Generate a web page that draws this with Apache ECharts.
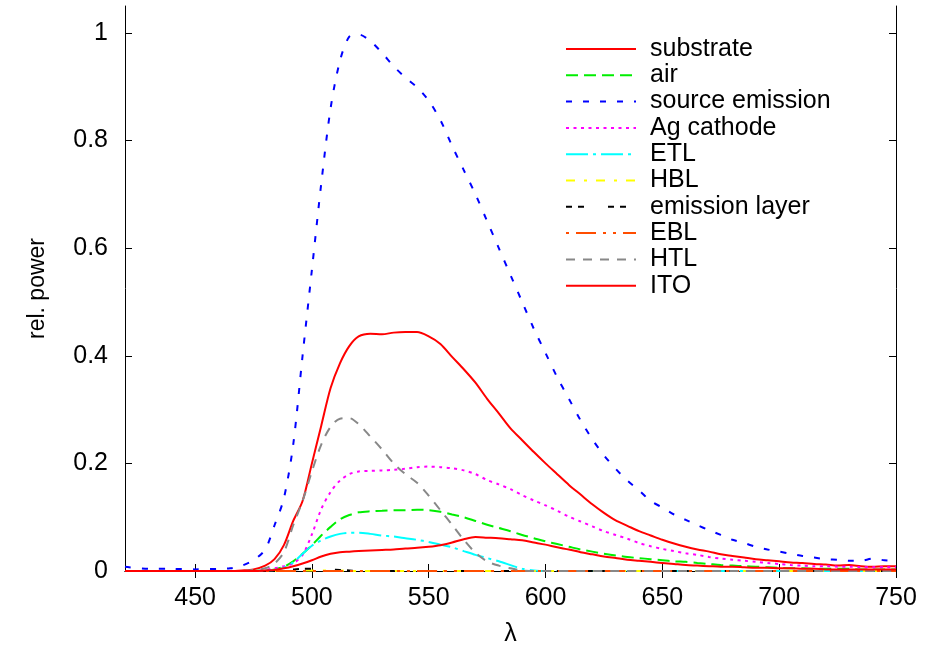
<!DOCTYPE html>
<html>
<head>
<meta charset="utf-8">
<script src="https://cdn.jsdelivr.net/npm/echarts@6/dist/echarts.min.js"></script>
<style>html,body{margin:0;padding:0;background:#fff}#c{width:926px;height:653px}</style>
</head>
<body>
<div id="c"></div>
<script>
// ---- data ----
const wavelength = [420,430,440,450,460,465,470,475,480,484,488,492,496,500,504,508,512,516,520,525,530,535,540,545,550,555,560,565,570,575,580,585,590,595,600,605,610,615,620,625,630,635,640,645,650,655,660,665,670,675,680,685,690,695,700,705,710,715,720,725,730,735,740,745,750];

const substrate = [0,0,0,0,0,0,0.001,0.003,0.01,0.022,0.048,0.093,0.13,0.2,0.27,0.34,0.386,0.418,0.436,0.441,0.44,0.443,0.444,0.444,0.436,0.422,0.398,0.375,0.35,0.32,0.293,0.265,0.243,0.221,0.2,0.18,0.16,0.142,0.124,0.108,0.094,0.084,0.074,0.066,0.058,0.051,0.045,0.04,0.036,0.031,0.028,0.025,0.022,0.02,0.018,0.016,0.015,0.013,0.012,0.01,0.011,0.009,0.008,0.009,0.009];

const air = [0,0,0,0,0,0,0,0,0.001,0.003,0.008,0.018,0.032,0.048,0.066,0.082,0.096,0.104,0.109,0.111,0.112,0.113,0.113,0.114,0.113,0.11,0.105,0.1,0.093,0.086,0.08,0.074,0.067,0.061,0.055,0.05,0.045,0.04,0.036,0.032,0.029,0.026,0.024,0.022,0.02,0.018,0.017,0.015,0.013,0.011,0.01,0.009,0.008,0.007,0.006,0.005,0.005,0.004,0.004,0.004,0.004,0.003,0.003,0.003,0.003];

const sourceEmission = [0.008,0.004,0.004,0.003,0.004,0.005,0.01,0.02,0.04,0.085,0.135,0.235,0.4,0.56,0.72,0.86,0.948,0.993,0.997,0.985,0.963,0.938,0.917,0.899,0.874,0.838,0.79,0.745,0.7,0.65,0.6,0.55,0.5,0.45,0.405,0.36,0.32,0.28,0.245,0.215,0.19,0.168,0.15,0.13,0.118,0.105,0.095,0.085,0.076,0.067,0.058,0.052,0.045,0.04,0.036,0.032,0.028,0.025,0.022,0.021,0.019,0.019,0.023,0.02,0.019];

const agCathode = [0,0,0,0,0,0,0,0,0.002,0.005,0.009,0.014,0.03,0.068,0.115,0.147,0.168,0.18,0.185,0.186,0.187,0.188,0.19,0.193,0.194,0.193,0.191,0.187,0.18,0.169,0.161,0.152,0.141,0.131,0.122,0.112,0.101,0.092,0.083,0.074,0.067,0.06,0.052,0.046,0.041,0.037,0.033,0.03,0.026,0.023,0.021,0.019,0.017,0.015,0.013,0.011,0.01,0.009,0.009,0.008,0.008,0.007,0.007,0.007,0.007];

const etl = [0,0,0,0,0,0,0,0,0.001,0.002,0.006,0.016,0.032,0.047,0.057,0.064,0.069,0.071,0.071,0.069,0.066,0.064,0.061,0.058,0.054,0.049,0.044,0.037,0.03,0.024,0.018,0.011,0.004,0.001,0,0,0,0,0,0,0,0,0,0,0,0,0,0,0,0,0,0,0,0,0,0,0,0,0,0,0,0,0,0,0];

const hbl = [0,0,0,0,0,0,0,0,0,0,0,0,0.001,0.001,0.001,0.001,0.001,0,0,0,0,0,0,0,0,0,0,0,0,0,0,0,0,0,0,0,0,0,0,0,0,0,0,0,0,0,0,0,0,0,0,0,0,0,0,0,0,0,0,0,0,0,0,0,0];

const emissionLayer = [0,0,0,0,0,0,0,0,0,0.001,0.002,0.003,0.004,0.004,0.004,0.003,0.002,0.001,0,0,0,0,0,0,0,0,0,0,0,0,0,0,0,0,0,0,0,0,0,0,0,0,0,0,0,0,0,0,0,0,0,0,0,0,0,0,0,0,0,0,0,0,0,0,0];

const ebl = [0,0,0,0,0,0,0,0,0,0,0,0,0,0,0,0,0,0,0,0,0,0,0,0,0,0,0,0,0,0,0,0,0,0,0,0,0,0,0,0,0,0,0,0,0,0,0,0,0,0,0,0,0,0,0,0,0,0,0,0,0,0,0,0,0];

const htl = [0,0,0,0,0,0,0,0.002,0.005,0.014,0.035,0.085,0.13,0.185,0.235,0.268,0.283,0.284,0.273,0.25,0.226,0.2,0.18,0.164,0.14,0.113,0.086,0.058,0.034,0.018,0.01,0.005,0.001,0,0,0,0,0,0,0,0,0,0,0,0,0,0,0,0,0,0,0,0,0,0,0,0,0,0,0,0,0,0,0,0];

const ito = [0,0,0,0,0,0,0,0,0.001,0.002,0.005,0.009,0.014,0.02,0.027,0.032,0.035,0.036,0.037,0.038,0.039,0.04,0.042,0.043,0.045,0.048,0.053,0.059,0.063,0.062,0.061,0.059,0.057,0.053,0.049,0.044,0.04,0.035,0.031,0.027,0.024,0.021,0.019,0.017,0.015,0.013,0.011,0.01,0.009,0.008,0.008,0.007,0.006,0.006,0.005,0.005,0.004,0.004,0.003,0.003,0.003,0.003,0.003,0.003,0.003];

const seriesNames = ['substrate','air','source emission','Ag cathode','ETL','HBL','emission layer','EBL','HTL','ITO'];
const seriesValues = [substrate, air, sourceEmission, agCathode, etl, hbl, emissionLayer, ebl, htl, ito];
const xTicks = [450,500,550,600,650,700,750];
const yTicks = [0,0.2,0.4,0.6,0.8,1];

// ---- styles ----
const colors = ['#ff0000','#00ee00','#0000ff','#ff00ff','#00ffff','#ffff00','#000000','#ff4d00','#888888','#ff0000'];
const dashes = ['solid',[12,6],[6,11],[3,4.5],[22,5,3,5],[9,9,3,9],[6,6,6,24],[3,7,20,7,3,7],[9,8],'solid'];

const chart = echarts.init(document.getElementById('c'), null, {renderer:'canvas'});
const FONT = 'Liberation Sans';
const axisLine = {show:true, lineStyle:{color:'#000', width:1}};

const series = seriesNames.map((n,i)=>({
  name:n, type:'line', xAxisIndex:0, yAxisIndex:0,
  data: wavelength.map((w,k)=>[w, seriesValues[i][k]]),
  symbol:'none', smooth:0.3, clip:true,
  lineStyle:{color:colors[i], width:2, type:dashes[i]},
  itemStyle:{color:colors[i]},
  z: 2+i
}));

chart.setOption({
  animation:false,
  textStyle:{fontFamily:FONT},
  grid:{left:125, right:30, top:6, bottom:82, containLabel:false},
  legend:{
    orient:'vertical', left:565, top:36.5, padding:0,
    itemWidth:70, itemHeight:14, itemGap:1.3,
    itemStyle:{color:'rgba(0,0,0,0)', opacity:0, borderWidth:0},
    textStyle:{fontFamily:FONT, fontSize:25, color:'#000', padding:[0,0,0,9]},
    data: seriesNames
  },
  xAxis:[
    {type:'value', min:420, max:750, position:'bottom',
     axisLine, splitLine:{show:false},
     axisTick:{show:true, inside:true, length:7, customValues:xTicks, lineStyle:{color:'#000'}},
     axisLabel:{customValues:xTicks, fontSize:25, color:'#000', margin:15, fontFamily:FONT},
     name:'λ', nameLocation:'middle', nameGap:51,
     nameTextStyle:{fontSize:25, color:'#000', fontFamily:FONT}},
    {type:'value', min:420, max:750, position:'top',
     axisLine, splitLine:{show:false},
     axisTick:{show:true, inside:true, length:7, customValues:xTicks, lineStyle:{color:'#000'}},
     axisLabel:{show:false}}
  ],
  yAxis:[
    {type:'value', min:0, max:1.05, position:'left',
     axisLine, splitLine:{show:false},
     axisTick:{show:true, inside:true, length:7, customValues:yTicks, lineStyle:{color:'#000'}},
     axisLabel:{customValues:yTicks, fontSize:25, color:'#000', margin:17, fontFamily:FONT},
     name:'rel. power', nameLocation:'middle', nameRotate:90, nameGap:76,
     nameTextStyle:{fontSize:23, color:'#000', fontFamily:FONT}},
    {type:'value', min:0, max:1.05, position:'right',
     axisLine, splitLine:{show:false},
     axisTick:{show:true, inside:true, length:7, customValues:yTicks, lineStyle:{color:'#000'}},
     axisLabel:{show:false}}
  ],
  series
});
</script>
</body>
</html>
